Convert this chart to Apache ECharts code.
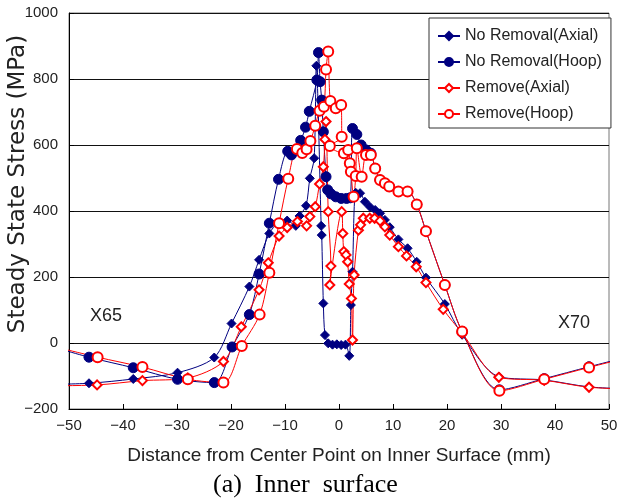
<!DOCTYPE html>
<html>
<head>
<meta charset="utf-8">
<script src="https://cdn.jsdelivr.net/npm/echarts@6/dist/echarts.min.js"></script>
<style>
html,body{margin:0;padding:0;background:#fff}
#main{width:617px;height:503px}
</style>
</head>
<body>
<div id="main"></div>
<script>
// 坐标刻度
var xTicks = [-50, -40, -30, -20, -10, 0, 10, 20, 30, 40, 50];
var yTicks = [-200, 0, 200, 400, 600, 800, 1000];

var seriesNames = ['No Removal(Axial)', 'No Removal(Hoop)', 'Remove(Axial)', 'Remove(Hoop)'];

// [距离 mm, 应力 MPa]  (首尾各有一点在图外, 只用于画出边缘的线)
var noRemovalAxial = [[-55,-126],[-46.3,-122],[-38.1,-109],[-29.9,-90],[-23.1,-44],[-19.9,59],[-16.6,171],[-14.8,252],[-12.9,332],[-11.2,365],[-9.6,371],[-8.0,355],[-7.3,385],[-6.1,416],[-5.4,499],[-4.6,560],[-4.2,840],[-3.3,355],[-3.2,327],[-2.9,120],[-2.6,24],[-2.0,-1],[-1.2,-5],[-0.4,-4],[0.4,-6],[1.2,-5],[1.9,-39],[2.2,115],[2.5,216],[3.1,455],[3.9,454],[4.8,428],[5.7,413],[6.7,403],[7.6,393],[8.5,373],[9.4,351],[11.0,314],[12.7,287],[14.4,246],[16.1,198],[19.6,118],[22.8,25],[29.6,-102],[38.0,-112],[46.3,-133],[55,-140]];

var noRemovalHoop = [[-55,-2],[-46.3,-43],[-38.1,-75],[-29.9,-110],[-23.1,-120],[-19.8,-12],[-16.6,86],[-14.8,209],[-12.9,363],[-11.2,496],[-9.5,581],[-8.8,570],[-7.1,614],[-6.2,654],[-5.5,702],[-4.1,797],[-3.8,880],[-3.5,792],[-3.2,736],[-2.9,640],[-2.4,504],[-2.1,464],[-1.5,452],[-0.6,443],[0.4,438],[1.4,438],[2.1,440],[2.5,650],[3.3,632],[4.1,600],[5.0,585],[5.9,575],[6.7,529],[7.6,494],[8.5,484],[9.3,474],[11.0,459],[12.7,459],[14.4,420],[16.1,339],[19.6,176],[22.8,35],[29.7,-142],[38.0,-108],[46.3,-72],[55,-36]];

var removeAxial = [[-55,-130],[-44.8,-127],[-36.4,-114],[-28.0,-106],[-21.4,-56],[-18.1,49],[-14.8,161],[-13.1,243],[-11.1,324],[-9.6,350],[-7.7,368],[-6.0,355],[-5.4,383],[-4.4,413],[-3.6,482],[-2.9,534],[-2.6,617],[-2.4,671],[-2.0,398],[-1.5,233],[-1.7,176],[0.5,398],[0.7,332],[0.9,277],[1.3,267],[1.6,246],[1.9,179],[2.3,135],[2.5,9],[2.8,206],[3.6,342],[4.0,358],[4.5,378],[5.7,378],[6.6,378],[7.6,370],[8.5,352],[9.4,327],[11.0,292],[12.5,264],[14.3,231],[16.1,183],[19.3,102],[22.8,30],[29.6,-104],[38.0,-113],[46.3,-134],[55,-140]];

var removeHoop = [[-55,-2],[-44.7,-43],[-36.4,-73],[-28.0,-110],[-21.4,-120],[-18.0,-9],[-14.7,86],[-12.9,213],[-11.1,363],[-9.4,498],[-7.8,588],[-6.8,576],[-6.0,587],[-5.3,612],[-4.4,658],[-3.6,704],[-2.8,716],[-2.4,829],[-2.0,883],[-1.6,733],[-0.6,711],[0.4,721],[0.5,625],[-1.7,597],[0.9,575],[1.7,585],[2.0,545],[2.2,519],[2.7,443],[3.1,506],[3.3,590],[4.2,504],[5.0,570],[5.9,570],[6.7,529],[7.6,494],[8.5,484],[9.3,474],[11.0,459],[12.7,459],[14.4,420],[16.1,339],[19.6,176],[22.8,35],[29.7,-145],[38.0,-110],[46.3,-74],[55,-38]];

var NAVY = '#000080';
var RED = '#ff0000';
var FONT = 'Liberation Sans';

function makeSeries(name, data, color, symbol, size) {
  return {
    name: name,
    type: 'line',
    data: data,
    smooth: 0.3,
    clip: true,
    symbol: symbol,
    symbolSize: size,
    showAllSymbol: true,
    lineStyle: { color: color, width: 1 },
    itemStyle: { color: color, borderColor: color, borderWidth: 1 },
    emphasis: { disabled: true },
    animation: false
  };
}

function minusLabel(v) {
  return String(v).replace('-', '\u2212');
}

var chart = echarts.init(document.getElementById('main'), null, { renderer: 'canvas' });

var option = {
  backgroundColor: '#fff',
  animation: false,
  title: {
    text: '(a)  Inner  surface',
    left: 213,
    top: 472,
    padding: 0,
    textStyle: { fontFamily: 'Liberation Serif', fontSize: 26, fontWeight: 'normal', color: '#000' }
  },
  legend: {
    orient: 'vertical',
    left: 429,
    top: 18,
    padding: [10, 9, 6, 8],
    itemGap: 10,
    itemWidth: 22,
    itemHeight: 10,
    backgroundColor: '#fff',
    borderColor: '#333',
    borderWidth: 1,
    borderRadius: 0,
    textStyle: { fontFamily: FONT, fontSize: 16, color: '#222' },
    data: seriesNames
  },
  grid: {
    left: 69, right: 8, top: 13, bottom: 94,
    containLabel: false,
    outerBoundsMode: 'none',
    show: true,
    borderColor: '#777',
    borderWidth: 1,
    backgroundColor: 'transparent'
  },
  xAxis: {
    type: 'value',
    min: xTicks[0],
    max: xTicks[xTicks.length - 1],
    interval: 10,
    name: 'Distance from Center Point on Inner Surface (mm)',
    nameLocation: 'middle',
    nameGap: 37,
    nameMoveOverlap: false,
    nameTextStyle: { fontFamily: FONT, fontSize: 19, color: '#222' },
    axisLine: { show: true, onZero: false, lineStyle: { color: '#000', width: 1 } },
    axisTick: { show: true, inside: true, length: 5, lineStyle: { color: '#000' } },
    axisLabel: { margin: 9, fontFamily: FONT, fontSize: 15, color: '#222', formatter: minusLabel },
    splitLine: { show: false }
  },
  yAxis: {
    type: 'value',
    min: yTicks[0],
    max: yTicks[yTicks.length - 1],
    interval: 200,
    name: 'Steady State Stress (MPa)',
    nameLocation: 'middle',
    nameGap: 39,
    nameMoveOverlap: false,
    nameTextStyle: { fontFamily: 'DejaVu Sans', fontSize: 23, color: '#222', padding: [0, 0, 0, 54] },
    axisLine: { show: true, onZero: false, lineStyle: { color: '#000', width: 1 } },
    axisTick: { show: true, inside: true, length: 5, lineStyle: { color: '#000' } },
    axisLabel: { margin: 11, fontFamily: FONT, fontSize: 15, color: '#222', formatter: minusLabel },
    splitLine: { show: true, lineStyle: { color: '#111', width: 1 } }
  },
  graphic: [
    { type: 'text', left: 90, top: 307, style: { text: 'X65', fontFamily: FONT, fontSize: 18, fill: '#222' } },
    { type: 'text', left: 558, top: 314, style: { text: 'X70', fontFamily: FONT, fontSize: 18, fill: '#222' } }
  ],
  series: [
    makeSeries(seriesNames[0], noRemovalAxial, NAVY, 'diamond', 9),
    makeSeries(seriesNames[1], noRemovalHoop, NAVY, 'circle', 10),
    makeSeries(seriesNames[2], removeAxial, RED, 'emptyDiamond', 9),
    makeSeries(seriesNames[3], removeHoop, RED, 'emptyCircle', 10)
  ]
};

chart.setOption(option);
</script>
</body>
</html>
